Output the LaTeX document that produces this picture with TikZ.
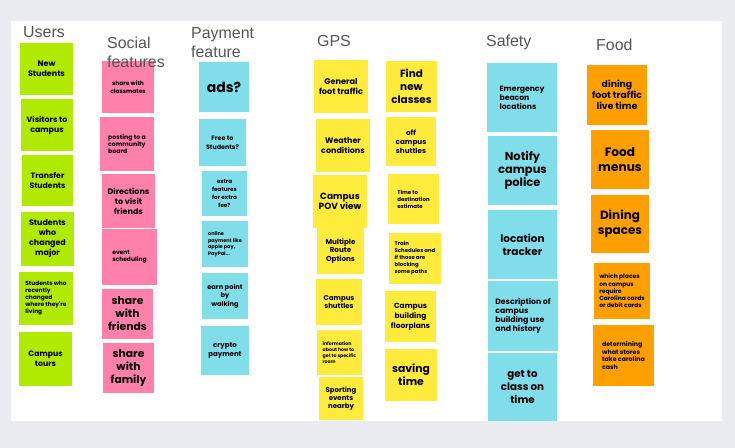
\documentclass[tikz,border=0pt]{standalone}
\usepackage{fontspec}
\newfontfamily\notefont{Poppins}
\newfontfamily\headfont{Liberation Sans}
\definecolor{boardgrey}{HTML}{EBECF0}
\definecolor{headgrey}{HTML}{555555}
\definecolor{usergreen}{HTML}{B0EA00}
\definecolor{socialpink}{HTML}{FF80AB}
\definecolor{paycyan}{HTML}{80DEEA}
\definecolor{gpsyellow}{HTML}{FFEB3B}
\definecolor{foodorange}{HTML}{FFA000}

\begin{document}
\begin{tikzpicture}[x=1bp,y=-1bp]
	\tikzset{
		sticky/.style={inner sep=0pt, align=center, text=black},
		wh/.style 2 args={minimum width=#1bp, minimum height=#2bp},
		fs/.style 2 args={font=\notefont\bfseries\fontsize{#1}{#2}\selectfont},
		user/.style={sticky, fill=usergreen},
		social/.style={sticky, fill=socialpink},
		pay/.style={sticky, fill=paycyan},
		gps/.style={sticky, fill=gpsyellow},
		safety/.style={sticky, fill=paycyan},
		food/.style={sticky, fill=foodorange},
		header/.style={inner sep=0pt, anchor=base west, align=left, text=headgrey,
			font=\headfont\fontsize{16}{19}\selectfont}
	}
	\useasboundingbox (0,0) rectangle (735,448);
	\fill[boardgrey] (0,0) rectangle (735,448);
	\fill[white] (11,21) rectangle (722,421);

	% users
	\node[user, wh={53}{52}, fs={8}{10}] (newStudents) at (46.5,69) {New\\Students};
	\node[user, wh={52}{52}, fs={7.9}{10}] (visitors) at (47,125) {Visitors to\\campus};
	\node[user, wh={51}{51}, fs={7.8}{10}] (transfer) at (47.5,180.5) {Transfer\\Students};
	\node[user, wh={53}{54}, fs={8}{10}] (changedMajor) at (47.5,239) {Students\\who\\changed\\major};
	\node[user, wh={54}{53}, fs={5.9}{7}, align=left] (movedHome) at (46,298.5) {Students who\\recently\\changed\\where they're\\living};
	\node[user, wh={53}{54}, fs={7.8}{9.5}] (tours) at (45.5,359) {Campus\\tours};

	% social features
	\node[social, wh={52}{52}, fs={5.9}{8}] (classmates) at (128,87) {share with\\classmates};
	\node[social, wh={54}{54}, fs={6.2}{7}, align=left] (board) at (127,144) {posting to a\\community\\board};
	\node[social, wh={53}{54}, fs={8}{10}] (directions) at (128.5,201) {Directions\\to visit\\friends};
	\node[social, wh={55}{56}, fs={6}{7}, align=left] (events) at (129.5,257) {event\\scheduling};
	\node[social, wh={51}{50}, fs={10.8}{13}] (shareFriends) at (127.5,314) {share\\with\\friends};
	\node[social, wh={51}{50}, fs={10.8}{13}] (shareFamily) at (128.5,368) {share\\with\\family};

	% payment feature
	\node[pay, wh={50}{50}, fs={14}{15}] (ads) at (224,87) {ads?};
	\node[pay, wh={47}{47}, fs={6.4}{9}] (free) at (222.5,142.5) {Free to\\Students?};
	\node[pay, wh={45}{45}, fs={5.7}{8}] (extraFee) at (224.5,193.5) {extra\\features\\for extra\\fee?};
	\node[pay, wh={46}{46}, fs={5}{6.5}, align=left] (online) at (225,244) {online\\payment like\\apple pay,\\PayPal...};
	\node[pay, wh={46}{46}, fs={6.7}{8.5}] (walking) at (225,296) {earn point\\by\\walking};
	\node[pay, wh={48}{49}, fs={7}{9}] (crypto) at (225,350.5) {crypto\\payment};

	% gps, left column
	\node[gps, wh={54}{53}, fs={8.2}{10}] (footTraffic) at (341,86.5) {General\\foot traffic};
	\node[gps, wh={54}{53}, fs={8}{10.5}] (weather) at (343,145.5) {Weather\\conditions};
	\node[gps, wh={47}{46}, fs={7.2}{8.5}] (routes) at (340.5,251) {Multiple\\Route\\Options};
	\node[gps, wh={54}{53}, fs={9}{10.5}] (povView) at (340,201.5) {Campus\\POV view};
	\node[gps, wh={46}{46}, fs={7}{8.5}] (shuttles) at (339,302) {Campus\\shuttles};
	\node[gps, wh={45}{45}, fs={4.7}{6}, align=left] (roomInfo) at (339.5,352.5) {information\\about how to\\get to specific\\room};
	\node[gps, wh={44}{43}, fs={7}{8}] (sporting) at (341,398.5) {Sporting\\events\\nearby};

	% gps, right column
	\node[gps, wh={51}{51}, fs={10.5}{13}] (findClasses) at (411.5,86.5) {Find\\new\\classes};
	\node[gps, wh={50}{49}, fs={7.2}{9}] (offCampus) at (411,141.5) {off\\campus\\shuttles};
	\node[gps, wh={51}{50}, fs={5.5}{7}, align=left] (eta) at (413.5,199) {Time to\\destination\\estimate};
	\node[gps, wh={52}{51}, fs={5.4}{7}, align=left] (trains) at (415,258.5) {Train\\Schedules and\\if those are\\blocking\\some paths};
	\node[gps, wh={51}{51}, fs={7.5}{10}] (floorplans) at (410.5,316.5) {Campus\\building\\floorplans};
	\node[gps, wh={52}{52}, fs={10.8}{13.5}] (savingTime) at (411,375) {saving\\time};

	% safety
	\node[safety, wh={70}{69}, fs={7.7}{9}, align=left] (beacons) at (522,97.5) {Emergency\\beacon\\locations};
	\node[safety, wh={69}{69}, fs={11.5}{13}] (police) at (522.5,170.5) {Notify\\campus\\police};
	\node[safety, wh={69}{69}, fs={10.5}{13}] (tracker) at (522.5,244.5) {location\\tracker};
	\node[safety, wh={70}{70}, fs={7.8}{9}, align=left] (history) at (523,316) {Description of\\campus\\building use\\and history};
	\node[safety, wh={69}{68}, fs={10.3}{13}] (onTime) at (522.5,387) {get to\\class on\\time};

	% food
	\node[food, wh={60}{60}, fs={9.3}{11}] (diningTraffic) at (617,95) {dining\\foot traffic\\live time};
	\node[food, wh={58}{59}, fs={12.2}{15}] (menus) at (620,159.5) {Food\\menus};
	\node[food, wh={58}{58}, fs={12}{15}] (spaces) at (620,224) {Dining\\spaces};
	\node[food, wh={56}{56}, fs={6}{7.3}, align=left] (cards) at (622,291) {which places\\on campus\\require\\Carolina cards\\or debit cards};
	\node[food, wh={61}{61}, fs={6.3}{8}, align=left] (stores) at (623.5,355.5) {determining\\what stores\\take carolina\\cash};

	% column headers, drawn over the notes
	\node[header] (hUsers) at (23,38) {Users};
	\node[header, anchor=north west] (hSocial) at (107,36.5) {Social\\features};
	\node[header, anchor=north west] (hPayment) at (191,27.5) {Payment\\feature};
	\node[header] (hGPS) at (317,47) {GPS};
	\node[header] (hSafety) at (486,47) {Safety};
	\node[header] (hFood) at (596,51) {Food};
\end{tikzpicture}
\end{document}
